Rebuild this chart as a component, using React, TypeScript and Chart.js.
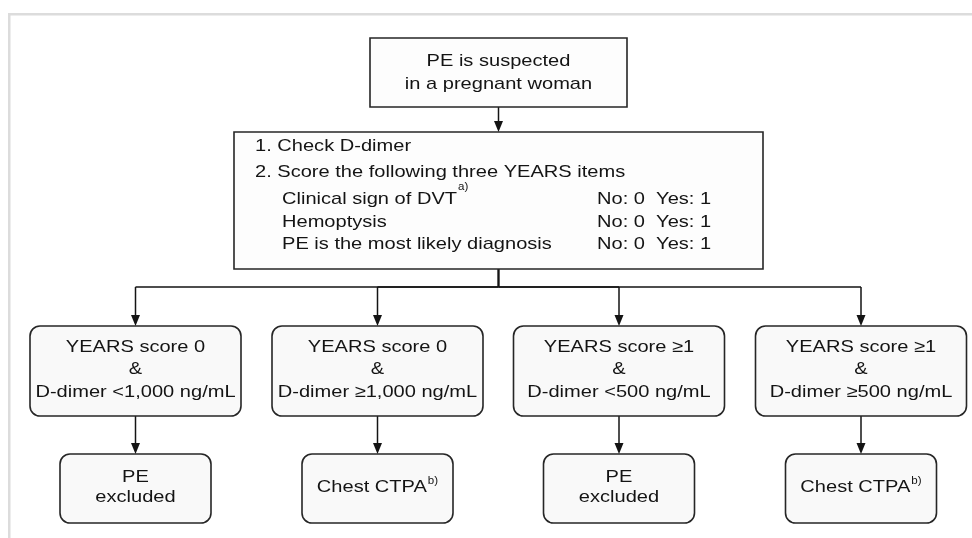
import React, { useEffect, useRef } from "react";
import { Chart, registerables } from "chart.js";

Chart.register(...registerables);

// ---- Flowchart content (data) ----
const nodeIds = ["top", "main", "r1a", "r1b", "r1c", "r1d", "r2a", "r2b", "r2c", "r2d"];
const nodeCenterX = [498.5, 498.5, 135.5, 377.5, 619, 861, 135.5, 377.5, 619, 861];
const nodeCenterY = [72.5, 200.5, 371, 371, 371, 371, 488.5, 488.5, 488.5, 488.5];
const nodeLines: string[][] = [
  ["PE is suspected", "in a pregnant woman"],
  [],
  ["YEARS score 0", "&", "D-dimer <1,000 ng/mL"],
  ["YEARS score 0", "&", "D-dimer \u22651,000 ng/mL"],
  ["YEARS score \u22651", "&", "D-dimer <500 ng/mL"],
  ["YEARS score \u22651", "&", "D-dimer \u2265500 ng/mL"],
  ["PE", "excluded"],
  ["Chest CTPA^b)"],
  ["PE", "excluded"],
  ["Chest CTPA^b)"],
];
const mainSteps = ["1. Check D-dimer", "2. Score the following three YEARS items"];
const yearsItems = ["Clinical sign of DVT^a)", "Hemoptysis", "PE is the most likely diagnosis"];
const yearsScore = "No: 0  Yes: 1";
// edges: [from, to]
const edges: [string, string][] = [
  ["top", "main"],
  ["main", "r1a"],
  ["main", "r1b"],
  ["main", "r1c"],
  ["main", "r1d"],
  ["r1a", "r2a"],
  ["r1b", "r2b"],
  ["r1c", "r2c"],
  ["r1d", "r2d"],
];
const branchBusY = 287;

// ---- Styles / sizes ----
const boxSize: Record<string, [number, number, number]> = {
  // w, h, radius
  top: [257, 69, 0],
  main: [529, 137, 0],
  r1: [211, 90, 10],
  r2: [151, 69, 10],
};
const FONT = '"Liberation Sans", Arial, Helvetica, sans-serif';
const FS = 17;
const SX = 1.18;
const INK = "#141414";
const BORDER = "#262626";

function sizeOf(id: string) {
  if (id === "top" || id === "main") return boxSize[id];
  return boxSize[id.slice(0, 2)];
}

function drawLabel(
  ctx: CanvasRenderingContext2D,
  s: string,
  x: number,
  y: number,
  align: "center" | "left",
  supDy: number
) {
  const [main, sup] = s.split("^");
  ctx.font = `${FS}px ${FONT}`;
  const w = ctx.measureText(main).width * SX;
  let supW = 0;
  if (sup) {
    ctx.font = `${11}px ${FONT}`;
    supW = ctx.measureText(sup).width * 1.05 + 1;
  }
  const total = w + supW;
  const left = align === "center" ? x - total / 2 : x;
  ctx.fillStyle = INK;
  ctx.textAlign = "left";
  ctx.textBaseline = "middle";
  ctx.save();
  ctx.font = `${FS}px ${FONT}`;
  ctx.translate(left, y);
  ctx.scale(SX, 1);
  ctx.fillText(main, 0, 0);
  ctx.restore();
  if (sup) {
    ctx.save();
    ctx.font = `${11}px ${FONT}`;
    ctx.translate(left + w + 1, y + supDy);
    ctx.scale(1.05, 1);
    ctx.fillText(sup, 0, 0);
    ctx.restore();
  }
}

function roundRect(ctx: CanvasRenderingContext2D, x: number, y: number, w: number, h: number, r: number) {
  ctx.beginPath();
  if (r <= 0) {
    ctx.rect(x, y, w, h);
    return;
  }
  ctx.moveTo(x + r, y);
  ctx.lineTo(x + w - r, y);
  ctx.arcTo(x + w, y, x + w, y + r, r);
  ctx.lineTo(x + w, y + h - r);
  ctx.arcTo(x + w, y + h, x + w - r, y + h, r);
  ctx.lineTo(x + r, y + h);
  ctx.arcTo(x, y + h, x, y + h - r, r);
  ctx.lineTo(x, y + r);
  ctx.arcTo(x, y, x + r, y, r);
  ctx.closePath();
}

function arrowHead(ctx: CanvasRenderingContext2D, x: number, y: number) {
  ctx.beginPath();
  ctx.moveTo(x, y);
  ctx.lineTo(x - 4.5, y - 11);
  ctx.lineTo(x + 4.5, y - 11);
  ctx.closePath();
  ctx.fillStyle = INK;
  ctx.fill();
}

const flowPlugin = {
  id: "flow",
  beforeDraw(chart: any) {
    const ctx = chart.ctx as CanvasRenderingContext2D;
    ctx.save();
    ctx.fillStyle = "#ffffff";
    ctx.fillRect(0, 0, chart.width, chart.height);
    ctx.fillStyle = "#dcdcdc";
    ctx.fillRect(8, 13, chart.width - 8, 2.5);
    ctx.fillRect(8, 13, 2.5, chart.height - 13);
    ctx.restore();
  },
  afterDatasetsDraw(chart: any) {
    const ctx = chart.ctx as CanvasRenderingContext2D;
    const xs = chart.scales.x;
    const ys = chart.scales.y;
    const pos: Record<string, { x: number; y: number; w: number; h: number; r: number }> = {};
    nodeIds.forEach((id, i) => {
      const [w, h, r] = sizeOf(id);
      pos[id] = { x: xs.getPixelForValue(nodeCenterX[i]), y: ys.getPixelForValue(nodeCenterY[i]), w, h, r };
    });
    ctx.save();
    // edges
    ctx.strokeStyle = INK;
    ctx.lineWidth = 1.5;
    const busY = ys.getPixelForValue(branchBusY);
    edges.forEach(([a, b]) => {
      const p = pos[a];
      const q = pos[b];
      const y0 = p.y + p.h / 2;
      const y1 = q.y - q.h / 2;
      ctx.beginPath();
      if (a === "main") {
        ctx.moveTo(p.x, y0);
        ctx.lineTo(p.x, busY);
        ctx.moveTo(p.x, busY);
        ctx.lineTo(q.x, busY);
        ctx.moveTo(q.x, busY);
        ctx.lineTo(q.x, y1 - 10);
      } else {
        ctx.moveTo(q.x, y0);
        ctx.lineTo(q.x, y1 - 10);
      }
      ctx.stroke();
      arrowHead(ctx, q.x, y1);
    });
    // boxes
    nodeIds.forEach((id) => {
      const p = pos[id];
      roundRect(ctx, p.x - p.w / 2, p.y - p.h / 2, p.w, p.h, p.r);
      ctx.fillStyle = id === "top" || id === "main" ? "#fdfdfd" : "#f9f9f9";
      ctx.fill();
      ctx.strokeStyle = BORDER;
      ctx.lineWidth = 1.6;
      ctx.stroke();
    });
    // texts
    nodeIds.forEach((id, i) => {
      const p = pos[id];
      const lines = nodeLines[i];
      if (!lines.length) return;
      const lh = id === "top" ? 23 : id.startsWith("r2") ? 20 : 22.5;
      const off = id.startsWith("r1") ? -1.5 : id === "top" ? 0 : -1;
      const startY = p.y + off - ((lines.length - 1) * lh) / 2;
      lines.forEach((ln, k) => drawLabel(ctx, ln, p.x, startY + k * lh, "center", -7));
    });
    // main box content
    const m = pos["main"];
    const left = m.x - m.w / 2;
    const top = m.y - m.h / 2;
    const stepY = [14.5, 40.5];
    mainSteps.forEach((s, k) => drawLabel(ctx, s, left + 21, top + stepY[k], "left", -10));
    const itemY = [67, 90, 112];
    yearsItems.forEach((s, k) => {
      drawLabel(ctx, s, left + 48, top + itemY[k], "left", -12);
      drawLabel(ctx, yearsScore, left + 363, top + itemY[k], "left", 0);
    });
    ctx.restore();
  },
};

export default function App() {
  const ref = useRef<HTMLCanvasElement | null>(null);
  useEffect(() => {
    if (!ref.current) return;
    const chart = new Chart(ref.current, {
      type: "scatter",
      data: {
        datasets: [
          {
            label: "nodes",
            data: nodeIds.map((_, i) => ({ x: nodeCenterX[i], y: nodeCenterY[i] })),
            pointRadius: 0,
            pointHoverRadius: 0,
          },
        ],
      },
      options: {
        animation: false,
        responsive: false,
        maintainAspectRatio: false,
        events: [],
        layout: { padding: 0 },
        plugins: { legend: { display: false }, tooltip: { enabled: false } },
        scales: {
          x: { type: "linear", min: 0, max: 972, display: false },
          y: { type: "linear", min: 0, max: 538, reverse: true, display: false },
        },
      },
      plugins: [flowPlugin],
    });
    return () => chart.destroy();
  }, []);
  return (
    <div style={{ position: "absolute", left: 0, top: 0, width: 972, height: 538, background: "#fff" }}>
      <canvas ref={ref} width={972} height={538} style={{ display: "block", width: 972, height: 538 }} />
    </div>
  );
}
